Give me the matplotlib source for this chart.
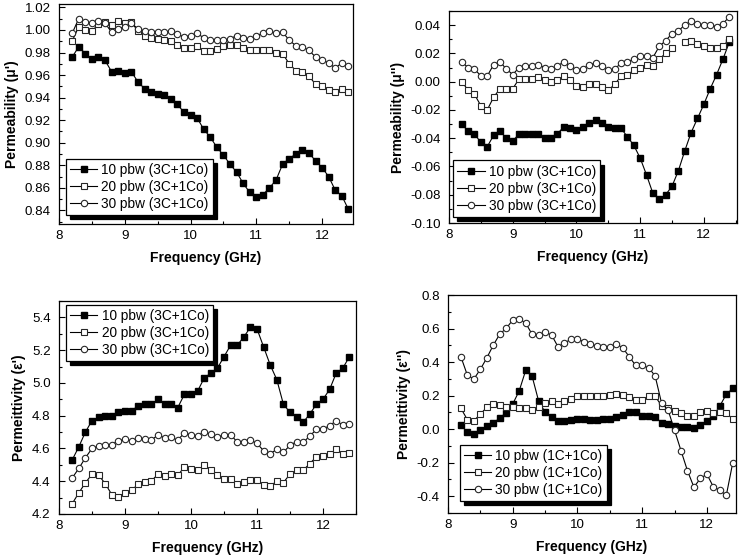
import numpy as np
import matplotlib
matplotlib.use("Agg")
import matplotlib.pyplot as plt
from matplotlib.ticker import MultipleLocator, FormatStrFormatter

plt.rcParams['font.family'] = ['Liberation Sans', 'DejaVu Sans']

# frequency points (GHz)
freq = [8.2, 8.3, 8.4, 8.5, 8.6, 8.7, 8.8, 8.9, 9.0, 9.1,
        9.2, 9.3, 9.4, 9.5, 9.6, 9.7, 9.8, 9.9, 10.0, 10.1,
        10.2, 10.3, 10.4, 10.5, 10.6, 10.7, 10.8, 10.9, 11.0, 11.1,
        11.2, 11.3, 11.4, 11.5, 11.6, 11.7, 11.8, 11.9, 12.0, 12.1,
        12.2, 12.3, 12.4]

# permeability real part (mu')
mu_r_10 = [0.976, 0.985, 0.979, 0.974, 0.976, 0.973, 0.963, 0.964, 0.962, 0.963,
           0.954, 0.948, 0.945, 0.943, 0.942, 0.939, 0.934, 0.927, 0.925, 0.922,
           0.912, 0.905, 0.896, 0.889, 0.881, 0.874, 0.864, 0.856, 0.852, 0.854,
           0.860, 0.867, 0.881, 0.886, 0.890, 0.894, 0.891, 0.884, 0.878, 0.870,
           0.858, 0.853, 0.841]
mu_r_20 = [0.990, 1.003, 1.000, 0.999, 1.005, 1.007, 1.004, 1.008, 1.006, 1.007,
           0.999, 0.995, 0.993, 0.992, 0.991, 0.990, 0.987, 0.984, 0.984, 0.986,
           0.981, 0.981, 0.983, 0.986, 0.987, 0.987, 0.984, 0.982, 0.982, 0.982,
           0.982, 0.980, 0.979, 0.970, 0.964, 0.963, 0.959, 0.952, 0.950, 0.947,
           0.945, 0.948, 0.945]
mu_r_30 = [0.997, 1.010, 1.007, 1.006, 1.008, 1.006, 0.998, 1.001, 1.003, 1.006,
           1.001, 0.999, 0.998, 0.998, 0.998, 0.999, 0.996, 0.994, 0.995, 0.997,
           0.993, 0.991, 0.991, 0.991, 0.992, 0.995, 0.993, 0.992, 0.995, 0.997,
           0.999, 0.997, 0.998, 0.991, 0.986, 0.985, 0.982, 0.976, 0.973, 0.971,
           0.966, 0.971, 0.968]

# permeability imaginary part (mu'')
mu_i_10 = [-0.030, -0.035, -0.037, -0.043, -0.046, -0.038, -0.035, -0.040, -0.042, -0.037,
           -0.037, -0.037, -0.037, -0.040, -0.040, -0.037, -0.032, -0.033, -0.034, -0.032,
           -0.029, -0.027, -0.029, -0.032, -0.033, -0.033, -0.039, -0.045, -0.054, -0.066,
           -0.079, -0.083, -0.080, -0.074, -0.063, -0.049, -0.036, -0.026, -0.016, -0.005,
           0.005, 0.016, 0.028]
mu_i_20 = [0.000, -0.006, -0.009, -0.017, -0.020, -0.011, -0.005, -0.005, -0.005, 0.002,
           0.002, 0.002, 0.003, 0.001, 0.000, 0.001, 0.004, 0.001, -0.003, -0.004,
           -0.002, -0.002, -0.004, -0.006, -0.002, 0.004, 0.005, 0.008, 0.010, 0.012,
           0.011, 0.016, 0.020, 0.024, np.nan, 0.028, 0.029, 0.027, 0.025, 0.024,
           0.024, 0.025, 0.030]
mu_i_30 = [0.014, 0.010, 0.009, 0.004, 0.004, 0.012, 0.014, 0.009, 0.005, 0.010,
           0.011, 0.011, 0.012, 0.010, 0.009, 0.011, 0.014, 0.011, 0.008, 0.009,
           0.012, 0.013, 0.011, 0.008, 0.009, 0.013, 0.014, 0.016, 0.018, 0.018,
           0.017, 0.025, 0.029, 0.034, 0.036, 0.040, 0.043, 0.041, 0.040, 0.040,
           0.039, 0.041, 0.046]

# permittivity real part (eps')
eps_r_10 = [4.53, 4.61, 4.70, 4.77, 4.79, 4.80, 4.80, 4.82, 4.83, 4.83,
            4.86, 4.87, 4.87, 4.90, 4.87, 4.87, 4.85, 4.93, 4.93, 4.95,
            5.03, 5.06, 5.09, 5.16, 5.23, 5.23, 5.28, 5.34, 5.33, 5.22,
            5.11, 5.02, 4.87, 4.82, 4.79, 4.76, 4.81, 4.87, 4.90, 4.96,
            5.06, 5.09, 5.16]
eps_r_20 = [4.263, 4.329, 4.390, 4.443, 4.437, 4.386, 4.318, 4.306, 4.329, 4.345,
            4.382, 4.396, 4.402, 4.443, 4.431, 4.443, 4.435, 4.488, 4.473, 4.467,
            4.498, 4.471, 4.437, 4.416, 4.416, 4.386, 4.396, 4.410, 4.406, 4.376,
            4.371, 4.400, 4.392, 4.443, 4.467, 4.467, 4.508, 4.549, 4.553, 4.565,
            4.596, 4.569, 4.571]
eps_r_30 = [4.420, 4.478, 4.543, 4.600, 4.616, 4.620, 4.624, 4.647, 4.655, 4.647,
            4.661, 4.657, 4.651, 4.682, 4.665, 4.667, 4.651, 4.696, 4.682, 4.676,
            4.702, 4.686, 4.671, 4.682, 4.682, 4.641, 4.641, 4.651, 4.631, 4.586,
            4.569, 4.594, 4.576, 4.620, 4.641, 4.637, 4.676, 4.716, 4.718, 4.739,
            4.769, 4.743, 4.749]

# permittivity imaginary part (eps'')
eps_i_10 = [0.024, -0.019, -0.027, -0.003, 0.018, 0.035, 0.068, 0.098, 0.150, 0.228,
            0.350, 0.315, 0.168, 0.101, 0.074, 0.049, 0.049, 0.052, 0.060, 0.060,
            0.056, 0.056, 0.058, 0.063, 0.071, 0.084, 0.102, 0.100, 0.077, 0.076,
            0.072, 0.039, 0.029, 0.017, 0.015, 0.014, 0.006, 0.025, 0.051, 0.079,
            0.138, 0.208, 0.243]
eps_i_20 = [0.124, 0.056, 0.050, 0.090, 0.130, 0.150, 0.144, 0.133, 0.130, 0.127,
            0.127, 0.116, 0.133, 0.155, 0.170, 0.148, 0.166, 0.180, 0.196, 0.196,
            0.196, 0.198, 0.200, 0.203, 0.210, 0.205, 0.190, 0.172, 0.176, 0.196,
            0.196, 0.140, 0.125, 0.108, 0.095, 0.080, 0.080, 0.102, 0.108, 0.096,
            0.105, 0.097, 0.060]
eps_i_30 = [0.431, 0.321, 0.299, 0.357, 0.425, 0.501, 0.567, 0.601, 0.651, 0.657,
            0.633, 0.565, 0.561, 0.577, 0.562, 0.491, 0.515, 0.535, 0.537, 0.522,
            0.506, 0.497, 0.492, 0.492, 0.508, 0.485, 0.432, 0.380, 0.380, 0.366,
            0.318, 0.155, 0.115, -0.006, -0.128, -0.248, -0.346, -0.294, -0.268, -0.344,
            -0.364, -0.395, -0.200]

labels_3c = ['10 pbw (3C+1Co)', '20 pbw (3C+1Co)', '30 pbw (3C+1Co)']
labels_1c = ['10 pbw (1C+1Co)', '20 pbw (1C+1Co)', '30 pbw (1C+1Co)']

W, H = 739, 555
fig = plt.figure(figsize=(W / 100, H / 100), dpi=100)


def px_axes(left, right, top, bottom):
    return fig.add_axes([left / W, (H - bottom) / H, (right - left) / W, (bottom - top) / H])


def draw_panel(ax, y10, y20, y30, labels, ylabel, xlim, ylim, ymajor, yticks,
               leg_loc, leg_anchor, fmt):
    ax.plot(freq, y10, '-s', color='black', lw=0.8, ms=4.4, mfc='black', mec='black',
            label=labels[0])
    ax.plot(freq, y20, '-s', color='black', lw=0.8, ms=4.4, mfc='white', mec='0.15',
            mew=0.8, label=labels[1])
    ax.plot(freq, y30, '-o', color='black', lw=0.8, ms=4.6, mfc='white', mec='0.15',
            mew=0.8, label=labels[2])
    ax.set_xlim(*xlim)
    ax.set_ylim(*ylim)
    ax.set_xticks([8, 9, 10, 11, 12])
    ax.xaxis.set_minor_locator(MultipleLocator(0.5))
    ax.set_yticks(yticks)
    ax.yaxis.set_minor_locator(MultipleLocator(ymajor / 2))
    ax.yaxis.set_major_formatter(FormatStrFormatter(fmt))
    ax.tick_params(which='both', direction='in', top=False, right=False, labelsize=9.6)
    ax.tick_params(which='major', length=4.5, width=0.8)
    ax.tick_params(which='minor', length=2.5, width=0.8)
    ax.tick_params(axis='y', pad=6)
    ax.tick_params(axis='x', pad=4)
    for s in ax.spines.values():
        s.set_linewidth(0.9)
    ax.set_xlabel('Frequency (GHz)', fontsize=10, fontweight='bold', labelpad=7)
    ax.set_ylabel(ylabel, fontsize=10, fontweight='bold', labelpad=4)
    leg = ax.legend(loc=leg_loc, bbox_to_anchor=leg_anchor, fontsize=9.8,
                    fancybox=False, framealpha=1, edgecolor='black',
                    shadow={'facecolor': 'black', 'edgecolor': 'black', 'alpha': 1,
                            'ox': 3, 'oy': -3},
                    borderpad=0.3, labelspacing=0.22, handlelength=2.0,
                    handletextpad=0.3, borderaxespad=0)
    leg.get_frame().set_linewidth(0.9)
    return ax


ax1 = px_axes(59, 353, 4, 224)
draw_panel(ax1, mu_r_10, mu_r_20, mu_r_30, labels_3c, "Permeability (\u03bc')",
           (8, 12.47), (0.828, 1.023), 0.02,
           [0.84, 0.86, 0.88, 0.90, 0.92, 0.94, 0.96, 0.98, 1.00, 1.02],
           'lower left', (0.024, 0.041), '%.2f')

ax2 = px_axes(449, 737, 11, 223)
draw_panel(ax2, mu_i_10, mu_i_20, mu_i_30, labels_3c, "Permeability (\u03bc'')",
           (8, 12.52), (-0.10, 0.05), 0.02,
           [-0.10, -0.08, -0.06, -0.04, -0.02, 0.00, 0.02, 0.04],
           'lower left', (0.015, 0.03), '%.2f')

ax3 = px_axes(59, 356, 301, 514)
draw_panel(ax3, eps_r_10, eps_r_20, eps_r_30, labels_3c, "Permeittivity (\u03b5')",
           (8, 12.5), (4.2, 5.5), 0.2,
           [4.2, 4.4, 4.6, 4.8, 5.0, 5.2, 5.4],
           'upper left', (0.024, 0.981), '%.1f')

ax4 = px_axes(448, 736, 295, 513)
draw_panel(ax4, eps_i_10, eps_i_20, eps_i_30, labels_1c, "Permeittivity (\u03b5'')",
           (8, 12.45), (-0.5, 0.8), 0.2,
           [-0.4, -0.2, 0.0, 0.2, 0.4, 0.6, 0.8],
           'lower left', (0.042, 0.055), '%.1f')

fig.savefig('out.png', dpi=100)
